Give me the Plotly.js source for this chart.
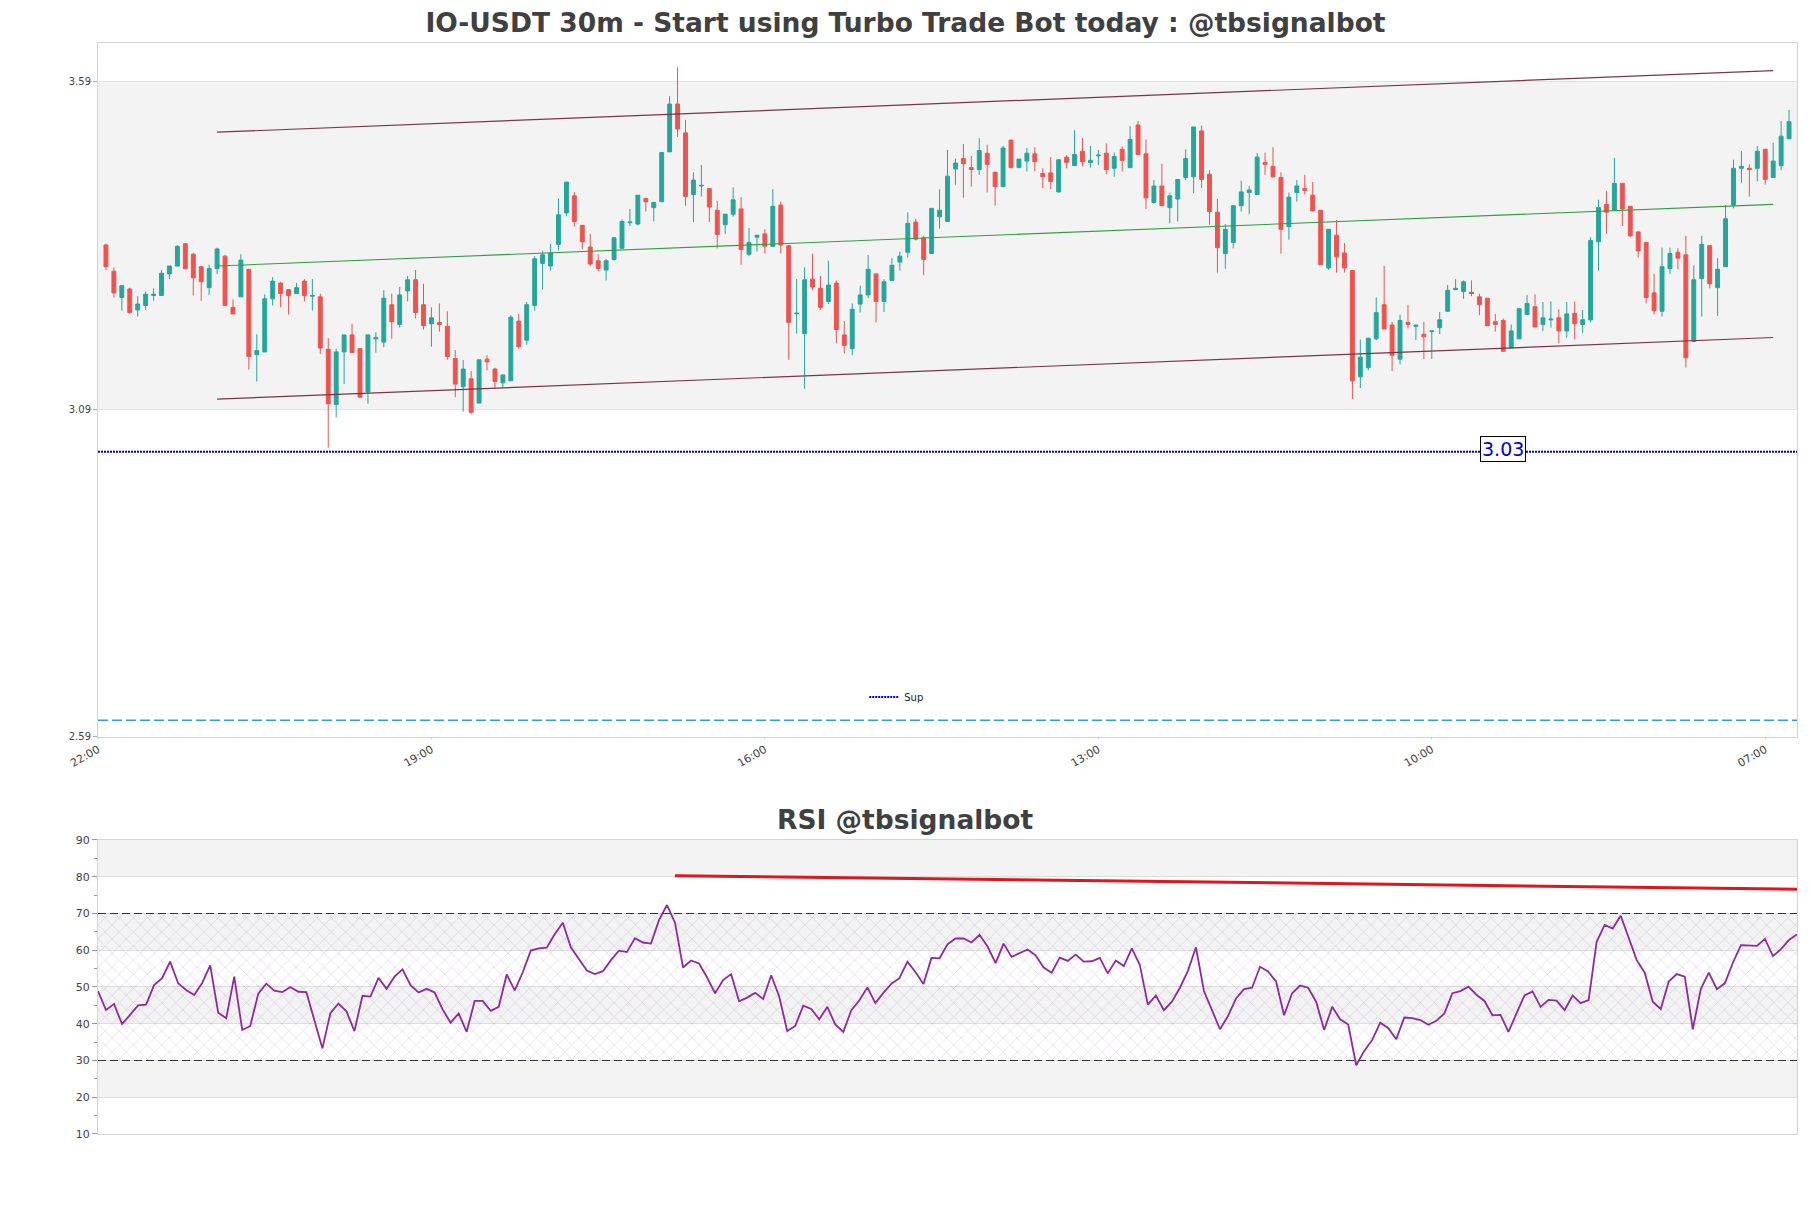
<!DOCTYPE html>
<html><head><meta charset="utf-8">
<script src="https://cdn.plot.ly/plotly-3.0.1.min.js"></script>
<style>html,body{margin:0;padding:0;background:#fff}</style>
</head><body>
<div id="chart" style="width:1811px;height:1208px"></div>
<script>
// ---- data (30m candles, IO-USDT) ----
const openArr = [3.340,3.300,3.260,3.273,3.241,3.248,3.263,3.263,3.296,3.308,
3.342,3.326,3.307,3.275,3.304,3.323,3.245,3.261,3.303,3.173,
3.177,3.258,3.282,3.272,3.266,3.285,3.262,3.261,3.181,3.097,
3.177,3.203,3.182,3.116,3.197,3.192,3.249,3.219,3.270,3.287,
3.249,3.220,3.222,3.216,3.167,3.124,3.136,3.099,3.166,3.151,
3.130,3.133,3.224,3.195,3.248,3.312,3.308,3.341,3.389,3.415,
3.370,3.337,3.316,3.302,3.318,3.335,3.374,3.372,3.411,3.397,
3.406,3.482,3.555,3.511,3.417,3.430,3.426,3.393,3.371,3.387,
3.395,3.326,3.352,3.357,3.338,3.401,3.339,3.235,3.205,3.288,
3.274,3.254,3.282,3.203,3.182,3.250,3.264,3.296,3.254,3.286,
3.314,3.329,3.375,3.351,3.327,3.383,3.376,3.456,3.472,3.458,
3.455,3.480,3.451,3.429,3.500,3.458,3.468,3.479,3.449,3.450,
3.421,3.474,3.461,3.483,3.466,3.476,3.480,3.457,3.486,3.458,
3.523,3.479,3.405,3.430,3.397,3.410,3.443,3.444,3.514,3.448,
3.390,3.327,3.344,3.400,3.420,3.417,3.466,3.460,3.443,3.368,
3.420,3.426,3.416,3.393,3.305,3.355,3.328,3.301,3.139,3.153,
3.197,3.249,3.218,3.166,3.222,3.216,3.204,3.208,3.214,3.239,
3.272,3.269,3.268,3.261,3.259,3.223,3.225,3.183,3.197,3.234,
3.246,3.219,3.226,3.229,3.209,3.236,3.219,3.226,3.345,3.402,
3.393,3.434,3.399,3.360,3.344,3.267,3.239,3.304,3.329,3.325,
3.193,3.289,3.339,3.275,3.307,3.401,3.457,3.457,3.457,3.486,
3.443,3.461,3.502];
const highArr = [3.342,3.306,3.278,3.275,3.262,3.269,3.274,3.302,3.308,3.340,
3.342,3.328,3.308,3.310,3.336,3.325,3.257,3.326,3.303,3.204,
3.265,3.291,3.284,3.272,3.282,3.288,3.288,3.266,3.198,3.182,
3.203,3.220,3.183,3.203,3.207,3.271,3.266,3.276,3.293,3.302,
3.281,3.245,3.251,3.239,3.180,3.165,3.148,3.165,3.172,3.153,
3.142,3.233,3.235,3.253,3.323,3.331,3.342,3.411,3.436,3.421,
3.370,3.357,3.326,3.319,3.351,3.379,3.395,3.416,3.411,3.405,
3.482,3.567,3.611,3.531,3.451,3.462,3.426,3.407,3.387,3.428,
3.413,3.366,3.355,3.364,3.425,3.406,3.339,3.288,3.306,3.327,
3.293,3.316,3.286,3.224,3.251,3.278,3.325,3.296,3.288,3.320,
3.330,3.390,3.380,3.354,3.396,3.425,3.485,3.472,3.494,3.476,
3.503,3.493,3.451,3.491,3.500,3.471,3.488,3.489,3.457,3.474,
3.471,3.477,3.515,3.503,3.491,3.485,3.495,3.481,3.490,3.521,
3.529,3.501,3.439,3.464,3.420,3.440,3.486,3.520,3.522,3.454,
3.410,3.372,3.400,3.438,3.430,3.480,3.481,3.489,3.451,3.420,
3.439,3.447,3.436,3.393,3.364,3.378,3.343,3.301,3.196,3.198,
3.260,3.308,3.223,3.234,3.249,3.218,3.223,3.209,3.238,3.279,
3.288,3.286,3.286,3.266,3.259,3.235,3.228,3.219,3.243,3.264,
3.265,3.253,3.254,3.242,3.253,3.254,3.241,3.352,3.409,3.422,
3.473,3.434,3.399,3.361,3.344,3.296,3.336,3.336,3.335,3.354,
3.309,3.354,3.339,3.320,3.401,3.470,3.483,3.463,3.491,3.486,
3.496,3.529,3.546];
const lowArr = [3.302,3.260,3.240,3.235,3.231,3.241,3.255,3.263,3.288,3.308,
3.304,3.263,3.255,3.264,3.296,3.248,3.235,3.261,3.150,3.132,
3.177,3.248,3.245,3.234,3.266,3.254,3.240,3.174,3.031,3.077,
3.128,3.176,3.108,3.098,3.176,3.184,3.197,3.214,3.254,3.228,
3.211,3.185,3.208,3.165,3.108,3.086,3.082,3.099,3.149,3.122,
3.123,3.133,3.182,3.188,3.240,3.272,3.301,3.332,3.384,3.368,
3.334,3.308,3.300,3.286,3.316,3.334,3.369,3.370,3.391,3.376,
3.406,3.482,3.505,3.400,3.375,3.414,3.375,3.335,3.357,3.383,
3.310,3.323,3.330,3.327,3.337,3.327,3.165,3.205,3.121,3.271,
3.241,3.250,3.190,3.175,3.172,3.237,3.259,3.222,3.238,3.286,
3.301,3.321,3.347,3.294,3.327,3.365,3.376,3.432,3.412,3.429,
3.447,3.420,3.400,3.429,3.458,3.458,3.452,3.453,3.427,3.425,
3.420,3.457,3.461,3.460,3.458,3.462,3.448,3.444,3.452,3.458,
3.478,3.395,3.403,3.400,3.373,3.376,3.439,3.419,3.427,3.371,
3.298,3.304,3.335,3.391,3.387,3.417,3.447,3.443,3.327,3.348,
3.406,3.417,3.392,3.310,3.302,3.298,3.298,3.105,3.122,3.149,
3.195,3.212,3.148,3.158,3.213,3.195,3.166,3.166,3.204,3.238,
3.272,3.258,3.262,3.233,3.217,3.208,3.178,3.183,3.197,3.234,
3.215,3.209,3.214,3.190,3.199,3.196,3.206,3.222,3.301,3.357,
3.393,3.369,3.352,3.321,3.251,3.234,3.231,3.296,3.303,3.153,
3.193,3.231,3.274,3.232,3.307,3.396,3.435,3.414,3.437,3.432,
3.443,3.454,3.502];
const closeArr = [3.307,3.267,3.278,3.237,3.250,3.265,3.265,3.297,3.308,3.338,
3.304,3.290,3.284,3.304,3.334,3.248,3.235,3.317,3.170,3.179,
3.258,3.285,3.266,3.263,3.275,3.263,3.263,3.183,3.098,3.177,
3.203,3.176,3.108,3.203,3.199,3.259,3.223,3.264,3.287,3.237,
3.217,3.229,3.219,3.170,3.128,3.151,3.085,3.165,3.162,3.132,
3.142,3.230,3.185,3.249,3.319,3.325,3.328,3.386,3.436,3.376,
3.345,3.311,3.304,3.316,3.351,3.376,3.375,3.416,3.406,3.405,
3.481,3.555,3.517,3.414,3.439,3.431,3.398,3.356,3.387,3.409,
3.333,3.344,3.355,3.338,3.399,3.340,3.222,3.236,3.287,3.276,
3.245,3.279,3.211,3.187,3.242,3.264,3.303,3.254,3.284,3.309,
3.323,3.373,3.349,3.318,3.396,3.393,3.445,3.465,3.464,3.455,
3.484,3.463,3.429,3.488,3.458,3.471,3.480,3.467,3.444,3.437,
3.470,3.466,3.478,3.467,3.469,3.477,3.455,3.475,3.469,3.501,
3.478,3.412,3.430,3.400,3.415,3.440,3.472,3.520,3.440,3.391,
3.336,3.364,3.400,3.421,3.424,3.474,3.463,3.444,3.364,3.413,
3.430,3.423,3.392,3.310,3.364,3.322,3.305,3.133,3.169,3.198,
3.237,3.212,3.172,3.225,3.219,3.218,3.200,3.209,3.226,3.271,
3.274,3.284,3.266,3.249,3.217,3.219,3.178,3.209,3.243,3.251,
3.215,3.229,3.227,3.209,3.235,3.220,3.226,3.347,3.397,3.390,
3.434,3.395,3.354,3.331,3.260,3.240,3.307,3.327,3.320,3.168,
3.287,3.341,3.281,3.303,3.380,3.457,3.460,3.455,3.483,3.440,
3.468,3.506,3.528];
const rsiArr = [48.9,43.7,45.4,39.9,42.4,45.0,45.2,50.5,52.4,56.9,51.0,49.2,47.8,
51.1,55.9,43.0,41.5,52.8,38.3,39.4,48.2,50.9,49.0,48.6,50.0,48.7,48.6,41.1,33.3,
42.9,45.5,43.4,38.0,47.6,47.4,52.5,49.5,52.8,54.8,50.5,48.5,49.5,48.5,43.9,40.3,
42.8,37.8,46.2,46.2,43.5,44.6,53.4,49.1,54.0,59.9,60.5,60.7,64.4,67.5,60.8,57.5,
54.5,53.5,54.3,57.3,59.9,59.5,63.3,62.1,
61.8,68.2,72.3,67.5,55.3,57.2,56.4,52.6,48.3,51.9,53.5,46.1,47.1,48.4,46.7,53.2,
47.4,38.0,39.4,44.9,44.0,41.2,44.6,39.8,37.8,43.7,46.3,49.9,45.6,48.4,50.9,52.4,
56.9,54.1,50.8,57.9,57.8,61.6,63.2,63.2,62.1,64.2,61.0,56.5,61.8,58.2,59.2,60.2,
58.6,55.3,53.9,58.0,57.1,58.8,56.9,57.0,57.9,53.7,57.2,55.7,60.5,56.0,45.2,47.7,
43.7,46.0,49.8,54.4,60.8,
48.9,43.7,38.5,42.1,46.9,49.4,49.8,55.5,54.2,51.5,42.3,48.3,50.4,49.8,46.0,38.3,
44.6,41.2,39.8,28.7,32.6,35.6,40.3,38.8,35.8,41.7,41.5,41.0,39.7,40.8,42.8,48.3,
48.9,50.1,47.9,46.2,42.3,42.4,37.8,42.8,47.7,48.8,44.6,46.5,46.3,43.7,47.7,45.6,
46.4,62.3,66.9,65.9,69.4,63.4,57.3,53.9,46.0,44.0,51.5,53.5,52.8,38.5,49.5,53.9,
49.4,51.0,56.6,61.4,61.4,61.2,63.1,58.4,60.3,62.8,64.3];

// channel lines (start candle 15, end candle 211)
const channelIdx = [15, 211];
const channelUpper = [3.512, 3.606];
const channelMid = [3.308, 3.402];
const channelLower = [3.105, 3.199];
const supLevel = 3.025;
const supLabel = '3.03';
const lowLevel = 2.6155;
// RSI trend line (start candle 73, end candle 213)
const rsiTrendIdx = [73, 213];
const rsiTrendVal = [80.3, 76.6];
const xTickText = ['22:00','19:00','16:00','13:00','10:00','07:00'];

// ---- time grid: 30-minute candles ----
const T0 = Date.UTC(2024, 6, 6, 22, 0);
function t(k) { return new Date(T0 + k * 1800000).toISOString().slice(0, 16).replace('T', ' '); }
const times = openArr.map((_, i) => t(i + 1));
const tickVals = xTickText.map((_, i) => t(i * 42));

const FONT = 'DejaVu Sans';
const traces = [
  {type:'candlestick', x: times, open: openArr, high: highArr, low: lowArr, close: closeArr,
   increasing:{line:{color:'#26a69a', width:1}, fillcolor:'#26a69a'},
   decreasing:{line:{color:'#ef5350', width:1}, fillcolor:'#ef5350'},
   whiskerwidth:0, showlegend:false, hoverinfo:'skip', xaxis:'x', yaxis:'y'},
  {type:'scatter', mode:'lines', x: channelIdx.map(t), y: channelUpper, line:{color:'#7e3347', width:1.2}, showlegend:false, xaxis:'x', yaxis:'y'},
  {type:'scatter', mode:'lines', x: channelIdx.map(t), y: channelMid, line:{color:'#2f9e44', width:1.1}, showlegend:false, xaxis:'x', yaxis:'y'},
  {type:'scatter', mode:'lines', x: channelIdx.map(t), y: channelLower, line:{color:'#7e3347', width:1.2}, showlegend:false, xaxis:'x', yaxis:'y'},
  {type:'scatter', mode:'lines', name:'Sup', x:[t(0), t(214)], y:[supLevel, supLevel], line:{color:'#0000cc', width:2, dash:'2px,1px'}, showlegend:true, xaxis:'x', yaxis:'y'},
  {type:'scatter', mode:'lines', x:[t(0), t(214)], y:[lowLevel, lowLevel], line:{color:'#2b9fd8', width:1.5, dash:'10px,4px'}, showlegend:false, xaxis:'x', yaxis:'y'},
  // RSI hatch between 30 and 70
  {type:'scatter', mode:'lines', x:[t(1), t(213)], y:[30, 30], line:{width:0}, showlegend:false, hoverinfo:'skip', xaxis:'x2', yaxis:'y2'},
  {type:'scatter', mode:'lines', x:[t(1), t(213)], y:[70, 70], line:{width:0}, fill:'tonexty', fillcolor:'rgba(0,0,0,0)',
   fillpattern:{shape:'x', fgcolor:'rgba(150,115,180,0.5)', bgcolor:'rgba(0,0,0,0)', size:10, solidity:0.08},
   showlegend:false, hoverinfo:'skip', xaxis:'x2', yaxis:'y2'},
  {type:'scatter', mode:'lines', x: times, y: rsiArr, line:{color:'#8e2a9e', width:1.8}, showlegend:false, xaxis:'x2', yaxis:'y2'},
  {type:'scatter', mode:'lines', x: rsiTrendIdx.map(t), y: rsiTrendVal, line:{color:'#e3141c', width:3}, showlegend:false, xaxis:'x2', yaxis:'y2'}
];

const bandFill = '#f3f3f3';
const shapes = [
  {type:'rect', xref:'x domain', yref:'y', x0:0, x1:1, y0:3.09, y1:3.59, fillcolor:bandFill, line:{width:0}, layer:'below'}
];
[[80,90],[60,70],[40,50],[20,30]].forEach(b => shapes.push(
  {type:'rect', xref:'x2 domain', yref:'y2', x0:0, x1:1, y0:b[0], y1:b[1], fillcolor:bandFill, line:{width:0}, layer:'below'}));
[70, 30].forEach(v => shapes.push(
  {type:'line', xref:'x2 domain', yref:'y2', x0:0, x1:1, y0:v, y1:v, line:{color:'#333333', width:1.2, dash:'8px,4px'}, layer:'above'}));

const axisLine = '#d4d4d4';
const layout = {
  width:1811, height:1208,
  margin:{l:98, r:14, t:43, b:74},
  paper_bgcolor:'#ffffff', plot_bgcolor:'#ffffff',
  font:{family:FONT, color:'#444444', size:10},
  title:{text:'<b>IO-USDT 30m - Start using Turbo Trade Bot today : @tbsignalbot</b>', x:0.5, xref:'container', xanchor:'center', y:1-23/1208, yref:'container', yanchor:'middle', font:{family:FONT, size:26.5, color:'#404040'}},
  showlegend:true,
  legend:{x:0.451, y:0.4005, xanchor:'left', yanchor:'middle', font:{family:FONT, size:10, color:'#222'}, bgcolor:'rgba(0,0,0,0)'},
  xaxis:{type:'date', domain:[0,1], anchor:'y', range:[t(0), t(214)], tickvals:tickVals, ticktext:xTickText, tickangle:-30,
         tickfont:{family:FONT, size:11, color:'#444'}, showgrid:false, ticks:'outside', ticklen:1, tickcolor:'#bbb',
         showline:true, mirror:true, linecolor:axisLine, linewidth:1, rangeslider:{visible:false}, zeroline:false},
  yaxis:{domain:[0.3639,1], anchor:'x', range:[2.59, 3.648], tick0:2.59, dtick:0.5, tickformat:'.2f',
         tickfont:{family:FONT, size:10, color:'#444'}, showgrid:true, gridcolor:'#e2e2e2', ticks:'outside', ticklen:4, tickcolor:'#aaa',
         showline:true, mirror:true, linecolor:axisLine, linewidth:1, zeroline:false},
  xaxis2:{type:'date', domain:[0,1], anchor:'y2', range:[t(1), t(213)], showticklabels:false, showgrid:false, ticks:'',
          showline:true, mirror:true, linecolor:axisLine, linewidth:1, zeroline:false},
  yaxis2:{domain:[0,0.2695], anchor:'x2', range:[10,90], tick0:10, dtick:10,
          tickfont:{family:FONT, size:11, color:'#444'}, showgrid:true, gridcolor:'#dedede', ticks:'outside', ticklen:5, tickcolor:'#999',
          minor:{dtick:5, tick0:5, ticks:'outside', ticklen:3, tickcolor:'#999', showgrid:false},
          showline:true, mirror:true, linecolor:axisLine, linewidth:1, zeroline:false},
  shapes: shapes,
  annotations:[
    {xref:'paper', yref:'paper', x:(905.5-98)/1699, y:(1134-819)/1091, xanchor:'center', yanchor:'middle', showarrow:false,
     text:'<b>RSI @tbsignalbot</b>', font:{family:FONT, size:26.5, color:'#404040'}},
    {xref:'x', yref:'y', x:t(177), y:supLevel, yshift:3, text:supLabel, showarrow:false, xanchor:'center', yanchor:'middle',
     font:{family:FONT, size:19, color:'#0000cc'}, bgcolor:'#ffffff', bordercolor:'#000000', borderwidth:1, borderpad:1}
  ]
};
Plotly.newPlot('chart', traces, layout, {displayModeBar:false, staticPlot:true});
</script>
</body></html>
